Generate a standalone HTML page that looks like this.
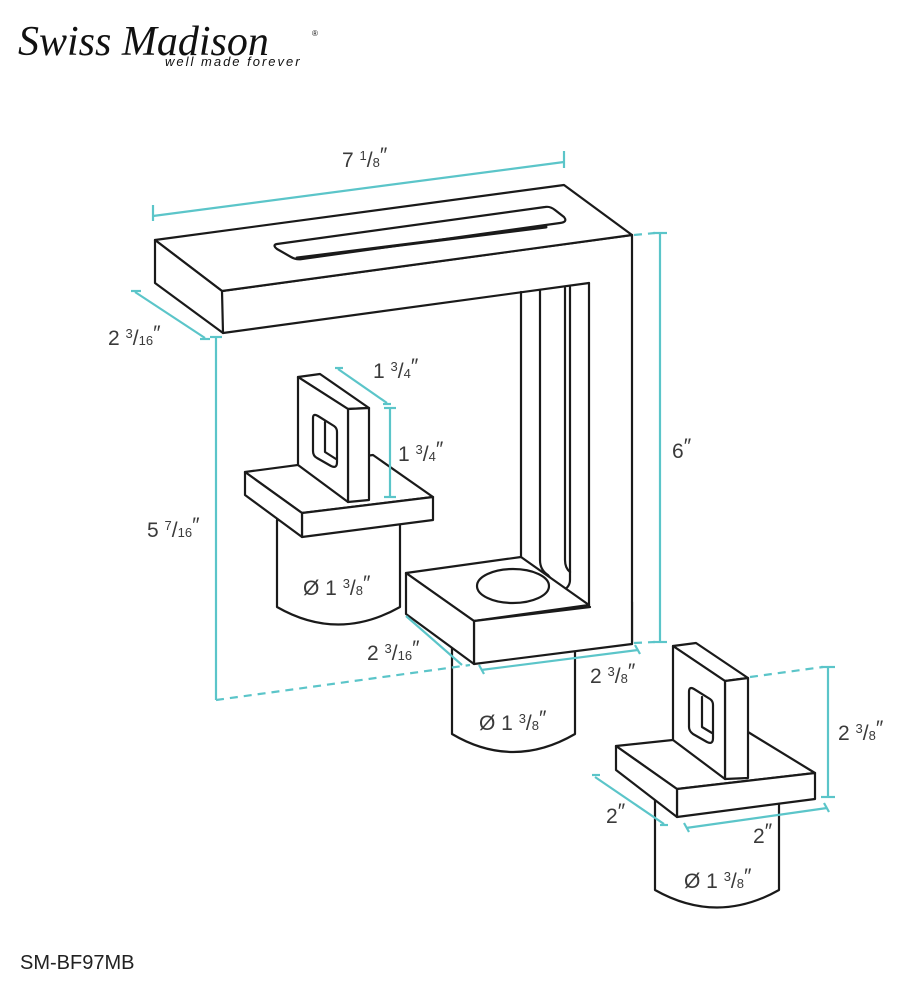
<!DOCTYPE html>
<html><head><meta charset="utf-8"><style>
html,body{margin:0;padding:0;background:#fff;width:906px;height:990px;overflow:hidden}
svg{display:block}
.l{fill:#fff;stroke:#1a1a1a;stroke-width:2.2;stroke-linejoin:round}
.w{fill:#fff;stroke:none}
.n{fill:none;stroke:#1a1a1a;stroke-width:2.2;stroke-linejoin:round;stroke-linecap:round}
.d{fill:none;stroke:#5bc5c9;stroke-width:2.2}
.dd{fill:none;stroke:#5bc5c9;stroke-width:2.2;stroke-dasharray:8 6}
text{font-family:"Liberation Sans",sans-serif;fill:#3a3a3a}
.t{font-size:21px}
.f{font-size:13px}
</style></head><body>
<svg width="906" height="990" viewBox="0 0 906 990">
<!-- logo -->
<text x="18" y="55" style="font-family:'Liberation Serif',serif;font-style:italic;font-size:42px;fill:#111">Swiss Madison</text>
<text x="312" y="36" style="font-size:8px;fill:#111">®</text>
<text x="165" y="66" style="font-size:13px;letter-spacing:2px;font-style:italic;fill:#111">well made forever</text>

<!-- column + spout front face -->
<polygon class="w" points="222,291 632,235 632,644 589,607 589,283 223,333"/>
<line class="n" x1="222" y1="291" x2="632" y2="235"/>
<line class="n" x1="223" y1="333" x2="589" y2="283"/>
<line class="n" x1="589" y1="283" x2="589" y2="607"/>
<line class="n" x1="632" y1="235" x2="632" y2="644"/>
<path class="n" d="M521,292 L521,557"/>
<path class="n" d="M540,290 L540,560 Q540,570 548,575 L552,580"/>
<path class="n" d="M565,288 L565,560 Q565,568 570,572"/>
<path class="n" d="M570,287 L570,580 Q570,588 560,592 L555,594"/>
<!-- top spout -->
<polygon class="l" points="155,240 564,185 632,235 222,291"/>
<polygon class="l" points="155,240 222,291 223,333 155,283"/>
<path class="n" d="M277,244 L545,207 Q550,206 555,210 L564,217 Q568,222 560,223 L302,259 Q296,260 291,257 L277,249 Q272,245 277,244Z"/>
<path class="n" d="M297,258 L546,227" style="stroke-width:3"/>

<!-- base cylinder -->
<path class="l" d="M452,640 L452,734 Q513,770 575,734 L575,640Z"/>
<!-- base block -->
<polygon class="l" points="406,573 521,557 589,605 474,621"/>
<polygon class="w" points="474,621 590,607 632,602 632,644 474,664"/>
<path class="n" d="M474,621 L590,607 M632,602 L632,644 L474,664 L474,621"/>
<polygon class="l" points="406,573 474,621 474,664 406,614"/>
<ellipse class="n" cx="513" cy="586" rx="36" ry="17"/>

<!-- left handle cylinder -->
<path class="l" d="M277,520 L277,607 Q338,642 400,607 L400,520Z"/>
<polygon class="l" points="245,472 373,455 433,497 302,513"/>
<polygon class="l" points="302,513 433,497 433,520 302,537"/>
<polygon class="l" points="245,472 302,513 302,537 245,495"/>
<polygon class="l" points="298,377 320,374 369,408 348,409"/>
<polygon class="l" points="348,409 369,408 369,500 348,502"/>
<polygon class="l" points="298,377 348,409 348,502 298,465"/>
<path class="n" d="M313,418 Q313,413 318,416 L334,426 Q337,428 337,432 L337,462 Q337,469 331,466 L317,458 Q313,456 313,451Z"/>
<path class="n" d="M325,422 L325,452 L336,459"/>

<!-- right handle cylinder -->
<path class="l" d="M655,800 L655,890 Q717,925 779,890 L779,800Z"/>
<polygon class="l" points="616,746 748,732 815,773 677,789"/>
<polygon class="l" points="677,789 815,773 815,799 677,817"/>
<polygon class="l" points="616,746 677,789 677,817 616,770"/>
<polygon class="l" points="673,646 696,643 748,678 725,681"/>
<polygon class="l" points="725,681 748,678 748,778 725,779"/>
<polygon class="l" points="673,646 725,681 725,779 673,740"/>
<path class="n" d="M689,692 Q689,686 694,689 L710,699 Q713,701 713,705 L713,738 Q713,745 707,742 L693,734 Q689,731 689,727Z"/>
<path class="n" d="M702,697 L702,727 L712,733"/>

<!-- dimensions -->
<line class="d" x1="153" y1="216" x2="564" y2="162"/>
<line class="d" x1="153" y1="205" x2="153" y2="221"/>
<line class="d" x1="564" y1="151" x2="564" y2="168"/>
<text class="t" x="342" y="167">7 <tspan class="f" dy="-7">1</tspan><tspan dy="7">/</tspan><tspan class="f">8</tspan><tspan dy="-5">″</tspan></text>

<line class="d" x1="135" y1="292" x2="205" y2="338"/>
<line class="d" x1="131" y1="291" x2="141" y2="291"/>
<line class="d" x1="200" y1="339" x2="210" y2="339"/>
<text class="t" x="108" y="345">2 <tspan class="f" dy="-7">3</tspan><tspan dy="7">/</tspan><tspan class="f">16</tspan><tspan dy="-5">″</tspan></text>

<line class="d" x1="216" y1="337" x2="216" y2="700"/>
<line class="d" x1="210" y1="337" x2="222" y2="337"/>
<line class="dd" x1="216" y1="700" x2="470" y2="665"/>
<text class="t" x="147" y="537">5 <tspan class="f" dy="-7">7</tspan><tspan dy="7">/</tspan><tspan class="f">16</tspan><tspan dy="-5">″</tspan></text>

<line class="d" x1="660" y1="233" x2="660" y2="642"/>
<line class="d" x1="653" y1="233" x2="667" y2="233"/>
<line class="d" x1="653" y1="642" x2="667" y2="642"/>
<line class="dd" x1="634" y1="235" x2="655" y2="233"/>
<line class="dd" x1="634" y1="643" x2="655" y2="642"/>
<text class="t" x="672" y="458">6<tspan dy="-5">″</tspan></text>

<line class="d" x1="338" y1="369" x2="387" y2="403"/>
<line class="d" x1="335" y1="368" x2="343" y2="368"/>
<line class="d" x1="383" y1="404" x2="391" y2="404"/>
<text class="t" x="373" y="378">1 <tspan class="f" dy="-7">3</tspan><tspan dy="7">/</tspan><tspan class="f">4</tspan><tspan dy="-5">″</tspan></text>

<line class="d" x1="390" y1="408" x2="390" y2="497"/>
<line class="d" x1="384" y1="408" x2="396" y2="408"/>
<line class="d" x1="384" y1="497" x2="396" y2="497"/>
<text class="t" x="398" y="461">1 <tspan class="f" dy="-7">3</tspan><tspan dy="7">/</tspan><tspan class="f">4</tspan><tspan dy="-5">″</tspan></text>

<text class="t" x="303" y="595">Ø 1 <tspan class="f" dy="-7">3</tspan><tspan dy="7">/</tspan><tspan class="f">8</tspan><tspan dy="-5">″</tspan></text>
<text class="t" x="479" y="730">Ø 1 <tspan class="f" dy="-7">3</tspan><tspan dy="7">/</tspan><tspan class="f">8</tspan><tspan dy="-5">″</tspan></text>
<text class="t" x="684" y="888">Ø 1 <tspan class="f" dy="-7">3</tspan><tspan dy="7">/</tspan><tspan class="f">8</tspan><tspan dy="-5">″</tspan></text>

<line class="d" x1="406" y1="616" x2="462" y2="665"/>
<text class="t" x="367" y="660">2 <tspan class="f" dy="-7">3</tspan><tspan dy="7">/</tspan><tspan class="f">16</tspan><tspan dy="-5">″</tspan></text>

<line class="d" x1="481" y1="670" x2="638" y2="650"/>
<line class="d" x1="479" y1="665" x2="484" y2="674"/>
<line class="d" x1="635" y1="645" x2="640" y2="654"/>
<text class="t" x="590" y="683">2 <tspan class="f" dy="-7">3</tspan><tspan dy="7">/</tspan><tspan class="f">8</tspan><tspan dy="-5">″</tspan></text>

<line class="d" x1="828" y1="667" x2="828" y2="797"/>
<line class="d" x1="821" y1="667" x2="835" y2="667"/>
<line class="d" x1="821" y1="797" x2="835" y2="797"/>
<line class="dd" x1="750" y1="677" x2="823" y2="667"/>
<text class="t" x="838" y="740">2 <tspan class="f" dy="-7">3</tspan><tspan dy="7">/</tspan><tspan class="f">8</tspan><tspan dy="-5">″</tspan></text>

<line class="d" x1="595" y1="777" x2="664" y2="824"/>
<line class="d" x1="592" y1="775" x2="600" y2="775"/>
<line class="d" x1="660" y1="825" x2="668" y2="825"/>
<text class="t" x="606" y="823">2<tspan dy="-5">″</tspan></text>

<line class="d" x1="686" y1="828" x2="827" y2="808"/>
<line class="d" x1="684" y1="823" x2="689" y2="832"/>
<line class="d" x1="824" y1="803" x2="829" y2="812"/>
<text class="t" x="753" y="843">2<tspan dy="-5">″</tspan></text>

<text x="20" y="969" style="font-size:20px;fill:#222">SM-BF97MB</text>
</svg>
</body></html>
